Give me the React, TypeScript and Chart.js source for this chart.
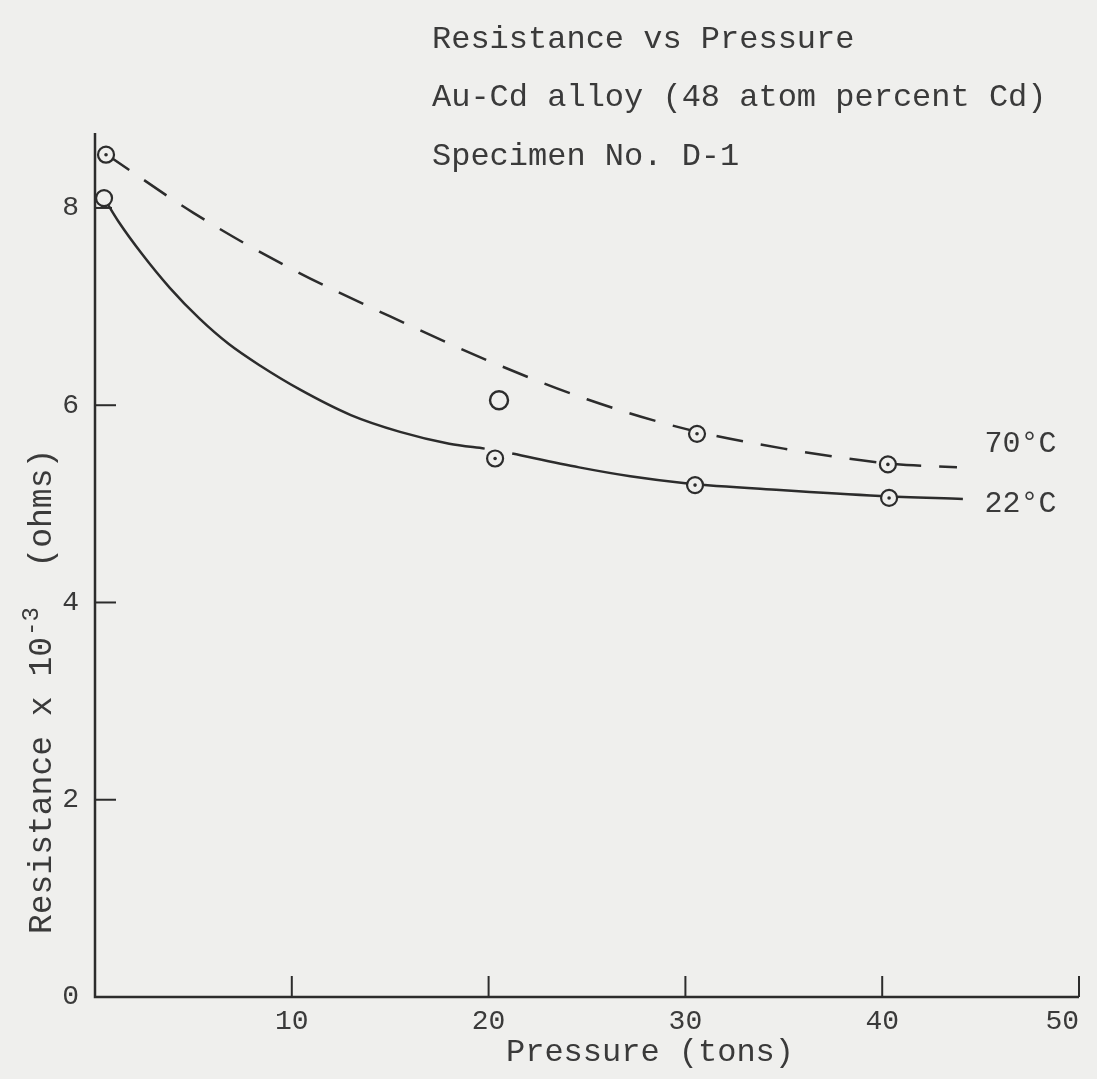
import React, { useEffect, useRef } from "react";
import { Chart, registerables } from "chart.js";

Chart.register(...registerables);

// ---- axis ticks ----
const xTickValues = [0, 10, 20, 30, 40, 50];
const yTickValues = [0, 2, 4, 6, 8];

// ---- hand-drawn smooth curves ----
const curve22X = [0.46, 1.2, 2.4, 3.8, 5.3, 6.8, 8.4, 10.4, 13.0, 15.5, 18.0, 19.8, 20.4, 21.2, 24.6, 27.2, 30.0, 34.8, 39.9, 44.1];
const curve22Y = [8.1, 7.86, 7.53, 7.19, 6.88, 6.62, 6.4, 6.16, 5.9, 5.73, 5.61, 5.56, null, 5.51, 5.37, 5.28, 5.21, 5.14, 5.08, 5.05];

const curve70X = [0.61, 5.0, 10.0, 15.0, 20.0, 25.0, 30.0, 35.0, 40.3, 43.8];
const curve70Y = [8.54, 7.95, 7.38, 6.9, 6.45, 6.06, 5.76, 5.56, 5.41, 5.37];

// ---- measured points ----
const points22X = [0.46, 20.33, 30.49, 40.35];
const points22Y = [8.1, 5.46, 5.19, 5.06];
const points22Dot = [false, true, true, true];

const points70X = [0.56, 30.59, 40.29];
const points70Y = [8.54, 5.71, 5.4];
const points70Dot = [true, true, true];

const extraX = [20.53];
const extraY = [6.05];

// ---- texts ----
const titleLines = ["Resistance vs Pressure", "Au-Cd alloy (48 atom percent Cd)", "Specimen No. D-1"];
const seriesLabels = ["70°C", "22°C"];
const seriesLabelX = [45.2, 45.2];
const seriesLabelY = [5.61, 5.0];
const xTitle = "Pressure (tons)";
const yTitleMain = "Resistance x 10";
const yTitleSup = "-3";
const yTitleTail = "  (ohms)";

const INK = "#2c2c2c";
const TEXT = "#3a3a3a";
const PAPER = "#efefed";
const FONT = "'Liberation Mono', 'DejaVu Sans Mono', monospace";

const toXY = (xs: number[], ys: (number | null)[]) => xs.map((x, i) => ({ x, y: ys[i] }));

export default function App() {
  const ref = useRef<HTMLCanvasElement | null>(null);

  useEffect(() => {
    if (!ref.current) return;
    const dotsData = [
      ...points22X.map((x, i) => (points22Dot[i] ? { x, y: points22Y[i] } : null)),
      ...points70X.map((x, i) => (points70Dot[i] ? { x, y: points70Y[i] } : null)),
    ].filter(Boolean) as { x: number; y: number }[];

    const decor = {
      id: "decor",
      beforeDraw(chart: any) {
        const { ctx, width, height } = chart;
        ctx.save();
        ctx.fillStyle = PAPER;
        ctx.fillRect(0, 0, width, height);
        ctx.restore();
      },
      afterDatasetsDraw(chart: any) {
        const { ctx, chartArea } = chart;
        const xs = chart.scales.x;
        const ys = chart.scales.y;
        ctx.save();
        ctx.strokeStyle = INK;
        ctx.lineWidth = 2.5;
        ctx.lineCap = "butt";
        // axes
        ctx.beginPath();
        ctx.moveTo(chartArea.left, chartArea.top);
        ctx.lineTo(chartArea.left, chartArea.bottom);
        ctx.lineTo(chartArea.right, chartArea.bottom);
        ctx.stroke();
        // inward tick marks
        ctx.lineWidth = 2;
        xTickValues.forEach((v) => {
          if (v === 0) return;
          const px = xs.getPixelForValue(v);
          ctx.beginPath();
          ctx.moveTo(px, chartArea.bottom);
          ctx.lineTo(px, chartArea.bottom - 21);
          ctx.stroke();
        });
        yTickValues.forEach((v) => {
          if (v === 0) return;
          const py = ys.getPixelForValue(v);
          ctx.beginPath();
          ctx.moveTo(chartArea.left, py);
          ctx.lineTo(chartArea.left + (v === 8 ? 17 : 21), py);
          ctx.stroke();
        });

        ctx.fillStyle = TEXT;
        // title lines
        ctx.font = `32px ${FONT}`;
        ctx.textAlign = "left";
        ctx.textBaseline = "alphabetic";
        const baselines = [48, 106, 165];
        titleLines.forEach((t, i) => ctx.fillText(t, 432, baselines[i]));

        // series labels
        ctx.font = `30px ${FONT}`;
        ctx.textBaseline = "middle";
        seriesLabels.forEach((t, i) => {
          ctx.fillText(t, xs.getPixelForValue(seriesLabelX[i]), ys.getPixelForValue(seriesLabelY[i]));
        });

        // x title
        ctx.font = `32px ${FONT}`;
        ctx.textAlign = "center";
        ctx.textBaseline = "alphabetic";
        ctx.fillText(xTitle, 650, 1061);

        // y title (rotated, reading bottom to top, with superscript)
        ctx.translate(51, 934);
        ctx.rotate(-Math.PI / 2);
        ctx.textAlign = "left";
        ctx.textBaseline = "alphabetic";
        ctx.font = `33px ${FONT}`;
        const w1 = ctx.measureText(yTitleMain).width;
        ctx.fillText(yTitleMain, 0, 0);
        let cx = w1 + 1;
        ctx.font = `24px ${FONT}`;
        const w2 = ctx.measureText(yTitleSup).width;
        ctx.fillText(yTitleSup, cx, -13);
        cx += w2;
        ctx.font = `33px ${FONT}`;
        ctx.fillText(yTitleTail, cx, 0);
        ctx.restore();
      },
    };

    const chart = new Chart(ref.current, {
      type: "scatter",
      data: {
        datasets: [
          {
            label: "dots",
            data: dotsData,
            showLine: false,
            pointRadius: 1.8,
            pointBackgroundColor: INK,
            pointBorderWidth: 0,
            order: 0,
          },
          {
            label: "22°C points",
            data: toXY(points22X, points22Y),
            showLine: false,
            pointRadius: 8,
            pointBorderWidth: 2.2,
            pointBorderColor: INK,
            pointBackgroundColor: PAPER,
            order: 1,
          },
          {
            label: "70°C points",
            data: toXY(points70X, points70Y),
            showLine: false,
            pointRadius: 8,
            pointBorderWidth: 2.2,
            pointBorderColor: INK,
            pointBackgroundColor: PAPER,
            order: 1,
          },
          {
            label: "extra",
            data: toXY(extraX, extraY),
            showLine: false,
            pointRadius: 9,
            pointBorderWidth: 2.4,
            pointBorderColor: INK,
            pointBackgroundColor: PAPER,
            order: 1,
          },
          {
            label: "22°C",
            data: toXY(curve22X, curve22Y),
            showLine: true,
            spanGaps: false,
            pointRadius: 0,
            borderColor: INK,
            borderWidth: 2.5,
            cubicInterpolationMode: "monotone",
            order: 2,
          },
          {
            label: "70°C",
            data: toXY(curve70X, curve70Y),
            showLine: true,
            spanGaps: false,
            pointRadius: 0,
            borderColor: INK,
            borderWidth: 2.5,
            borderDash: [27, 18],
            cubicInterpolationMode: "monotone",
            order: 2,
          },
        ] as any,
      },
      options: {
        responsive: false,
        animation: false,
        events: [],
        layout: { padding: { left: 0, top: 133, right: 18, bottom: 0 } },
        plugins: {
          legend: { display: false },
          tooltip: { enabled: false },
          title: { display: false },
        },
        scales: {
          x: {
            type: "linear",
            min: 0,
            max: 50,
            afterBuildTicks: (s: any) => {
              s.ticks = xTickValues.filter((v) => v !== 0).map((value) => ({ value }));
            },
            afterFit: (s: any) => {
              s.height = 82;
              s.paddingLeft = 0;
              s.paddingRight = 0;
            },
            ticks: {
              color: TEXT,
              font: { family: FONT, size: 28 },
              padding: 8,
              maxRotation: 0,
              callback: (v: any) => (v === 50 ? "50  " : String(v)),
            },
            grid: { display: false, drawTicks: false },
            border: { display: false },
          },
          y: {
            type: "linear",
            min: 0,
            max: 8.76,
            afterBuildTicks: (s: any) => {
              s.ticks = yTickValues.map((value) => ({ value }));
            },
            afterFit: (s: any) => {
              s.width = 95;
            },
            ticks: { color: TEXT, font: { family: FONT, size: 28 }, padding: 16 },
            grid: { display: false, drawTicks: false },
            border: { display: false },
          },
        },
      },
      plugins: [decor],
    });
    return () => chart.destroy();
  }, []);

  return (
    <div style={{ position: "absolute", left: 0, top: 0, width: 1097, height: 1079 }}>
      <canvas ref={ref} width={1097} height={1079} style={{ display: "block" }} />
    </div>
  );
}
